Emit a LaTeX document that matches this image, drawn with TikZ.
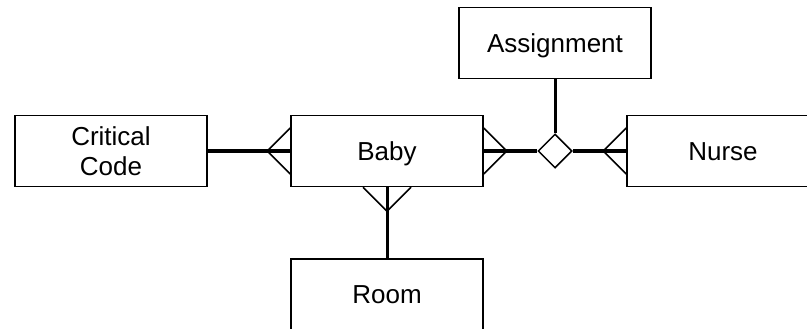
\documentclass[tikz,border=0pt]{standalone}
\usepackage{fontspec}
\setmainfont{Liberation Sans}
\usetikzlibrary{positioning, shapes.geometric, calc}

\begin{document}
\begin{tikzpicture}[
    x=1pt, y=-1pt,
    entity/.style={draw, line width=1.5pt, minimum width=192pt, minimum height=71pt,
        align=center, font=\fontsize{26}{30}\selectfont, inner sep=0pt},
    oneline/.style={text height=18.6pt, text depth=0pt},
    relation/.style={draw, diamond, line width=1.5pt, minimum width=34pt, minimum height=34pt, inner sep=0pt},
    link/.style={line width=3pt},
    prong/.style={line width=1.5pt}
]
    \clip (0, 0) rectangle (807, 329);
    \useasboundingbox (0, 0) rectangle (807, 329);

    % === Entities ===
    \node[entity, oneline] (baby) at (387, 151) {Baby};
    \node[entity] (code) at (111, 151) {Critical\\Code};
    \node[entity, oneline] (assign) at (555, 43) {Assignment};
    \node[entity, oneline] (nurse) at (723, 151) {Nurse};
    \node[entity, oneline] (room) at (387, 294.5) {Room};

    % === Relationship ===
    \node[relation] (rel) at (555, 151) {};

    % === Connectors ===
    \draw[link] (code.east) -- (baby.west);
    \draw[link] (baby.east) -- (rel.west);
    \draw[link] (rel.east) -- (nurse.west);
    \draw[link] (assign.south) -- (rel.north);
    \draw[link] (baby.south) -- (room.north);

    % Crow's feet
    \coordinate (footL) at ($(baby.west)+(-23, 0)$);
    \draw[prong] ($(baby.west)+(0, -23)$) -- (footL) -- ($(baby.west)+(0, 23)$);

    \coordinate (footR) at ($(baby.east)+(23, 0)$);
    \draw[prong] ($(baby.east)+(0, -23)$) -- (footR) -- ($(baby.east)+(0, 23)$);

    \coordinate (footN) at ($(nurse.west)+(-23, 0)$);
    \draw[prong] ($(nurse.west)+(0, -23)$) -- (footN) -- ($(nurse.west)+(0, 23)$);

    \coordinate (footB) at ($(baby.south)+(0, 24)$);
    \draw[prong] ($(baby.south)+(-24, 0)$) -- (footB) -- ($(baby.south)+(24, 0)$);

\end{tikzpicture}
\end{document}
